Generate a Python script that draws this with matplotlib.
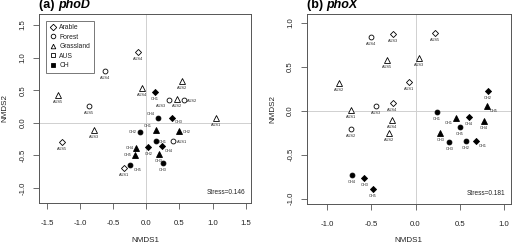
import matplotlib
matplotlib.use("Agg")
import matplotlib.pyplot as plt
from matplotlib.lines import Line2D

plt.rcParams['font.family'] = ['Liberation Sans', 'DejaVu Sans']

# ---------------- data: panel (a) phoD ----------------
a_x = [-0.13, -0.62, -1.33, -0.87, -0.79, -1.27, -0.06, 0.13, 0.54, 0.34, 0.47, 0.57,
       0.18, 0.38, 1.05, 0.14, 0.50, -0.10, 0.14, 0.41, -0.15, 0.03, 0.23, -0.17, 0.19,
       0.25, -0.24, -0.33]
a_y = [1.08, 0.80, 0.42, 0.26, -0.11, -0.30, 0.54, 0.47, 0.64, 0.35, 0.37, 0.35,
       0.08, 0.08, 0.08, -0.11, -0.13, -0.14, -0.28, -0.28, -0.39, -0.37, -0.36, -0.49, -0.48,
       -0.61, -0.65, -0.70]
a_land = ['Arable', 'Forest', 'Grassland', 'Forest', 'Grassland', 'Arable', 'Grassland', 'Arable',
          'Grassland', 'Forest', 'Grassland', 'Forest', 'Forest', 'Arable', 'Grassland', 'Grassland',
          'Grassland', 'Forest', 'Forest', 'Forest', 'Grassland', 'Arable', 'Arable', 'Grassland',
          'Grassland', 'Forest', 'Forest', 'Arable']
a_site = ['AUS4', 'AUS4', 'AUS5', 'AUS5', 'AUS3', 'AUS5', 'AUS4', 'CH1', 'AUS2', 'AUS3', 'AUS2',
          'AUS2', 'CH4', 'CH3', 'AUS1', 'CH1', 'CH2', 'CH2', 'CH1', 'AUS1', 'CH4', 'CH2', 'CH4',
          'CH5', 'CH3', 'CH3', 'CH5', 'AUS1']
a_lab = ['b', 'b', 'b', 'b', 'b', 'b', 'b', 'b', 'b', 'bl', 'b', 'r', 'ul', 'br', 'b', 'ul',
         'r', 'l', 'r', 'r', 'l', 'b', 'br', 'l', 'b', 'b', 'br', 'b']

# ---------------- data: panel (b) phoX ----------------
b_x = [-0.50, -0.26, 0.215, -0.32, 0.04, -0.87, -0.075, -0.73, -0.45, -0.26, -0.73, -0.27,
       -0.30, 0.24, 0.46, 0.60, 0.81, 0.815, 0.77, 0.50, 0.28, 0.38, 0.57, 0.68, -0.72,
       -0.58, -0.48]
b_y = [0.84, 0.87, 0.88, 0.57, 0.60, 0.31, 0.33, 0.01, 0.05, 0.09, -0.21, -0.11, -0.25,
       -0.02, -0.08, -0.07, 0.05, 0.22, -0.12, -0.18, -0.25, -0.36, -0.34, -0.35, -0.73,
       -0.76, -0.89]
b_land = ['Forest', 'Arable', 'Arable', 'Grassland', 'Grassland', 'Grassland', 'Arable',
          'Grassland', 'Forest', 'Arable', 'Forest', 'Grassland', 'Grassland', 'Forest',
          'Grassland', 'Arable', 'Grassland', 'Arable', 'Grassland', 'Forest', 'Grassland',
          'Forest', 'Forest', 'Arable', 'Forest', 'Arable', 'Arable']
b_site = ['AUS4', 'AUS3', 'AUS5', 'AUS5', 'AUS3', 'AUS2', 'AUS1', 'AUS1', 'AUS3', 'AUS4',
          'AUS2', 'AUS4', 'AUS2', 'CH1', 'CH1', 'CH4', 'CH5', 'CH2', 'CH4', 'CH5', 'CH3',
          'CH3', 'CH2', 'CH1', 'CH4', 'CH3', 'CH5']
b_lab = ['b', 'b', 'b', 'b', 'b', 'b', 'b', 'b', 'b', 'b', 'b', 'b', 'b', 'b', 'bl', 'b',
         'br', 'b', 'b', 'b', 'b', 'b', 'b', 'br', 'b', 'b', 'b']

a_xticks = [-1.5, -1.0, -0.5, 0.0, 0.5, 1.0, 1.5]
a_yticks = [-1.0, -0.5, 0.0, 0.5, 1.0, 1.5]
b_xticks = [-1.0, -0.5, 0.0, 0.5, 1.0]
b_yticks = [-1.0, -0.5, 0.0, 0.5, 1.0]
a_stress = 0.146
b_stress = 0.181

# ---------------- style ----------------
W, H = 520, 245
fig = plt.figure(figsize=(W / 100, H / 100), dpi=100)

markers = {'Arable': 'D', 'Forest': 'o', 'Grassland': '^'}
msize = {'Arable': 3.1, 'Forest': 3.5, 'Grassland': 3.8}
# label offsets in pixels (dx, dy, ha)
offs = {'b': (0, -7, 'center'), 'r': (3, -0.5, 'left'), 'l': (-3, 0, 'right'),
        'br': (3, -4.5, 'left'), 'bl': (-8, -5.5, 'center'), 'ul': (-3.5, 4, 'right')}
px2pt = 0.72
box_col = '#555555'


def make_axes(left, right, top, bottom):
    return fig.add_axes([left / W, (H - bottom) / H, (right - left) / W, (bottom - top) / H])


def draw_panel(ax, xs, ys, lands, sites, labs, xlim, ylim, xticks, yticks, stress, title, gene,
               xlabelpad):
    ax.axhline(0, color='#d0d0d0', lw=0.7, zorder=0)
    ax.axvline(0, color='#d0d0d0', lw=0.7, zorder=0)
    for x, y, land, site, lab in zip(xs, ys, lands, sites, labs):
        filled = site.startswith('CH')
        ax.plot([x], [y], marker=markers[land], ms=msize[land], mew=0.6,
                mfc='black' if filled else 'white', mec='black', ls='none', zorder=3)
        dx, dy, ha = offs[lab]
        ax.annotate(site, (x, y), xytext=(dx * px2pt, dy * px2pt), textcoords='offset points',
                    ha=ha, va='center', fontsize=2.8, color='#222222', zorder=4)
    ax.set_xlim(*xlim)
    ax.set_ylim(*ylim)
    ax.set_xticks(xticks)
    ax.set_yticks(yticks)
    ax.set_xticklabels([f"{t:.1f}" for t in xticks])
    ax.set_yticklabels([f"{t:.1f}" for t in yticks], rotation=90, va='center')
    ax.tick_params(axis='both', length=4, width=0.6, color=box_col, labelsize=5.6,
                   labelcolor='#222222', direction='out')
    ax.tick_params(axis='x', pad=8)
    ax.tick_params(axis='y', pad=5)
    for s in ax.spines.values():
        s.set_color(box_col)
        s.set_linewidth(0.7)
    ax.set_xlabel('NMDS1', fontsize=5.8, color='#222222', labelpad=xlabelpad)
    ax.set_ylabel('NMDS2', fontsize=5.8, color='#222222', labelpad=8)
    ax.text(0.975, 0.035, f"Stress={stress}", transform=ax.transAxes, ha='right', va='bottom',
            fontsize=4.7, color='#222222')
    t1 = ax.text(0.0, 1.015, f"({title}) ", transform=ax.transAxes, ha='left', va='bottom',
                 fontsize=9, fontweight='bold')
    ax.annotate(gene, xy=(1, 0), xycoords=t1, ha='left', va='bottom', fontsize=9,
                fontweight='bold', fontstyle='italic')


ax1 = make_axes(39.3, 250.7, 14, 203)
draw_panel(ax1, a_x, a_y, a_land, a_site, a_lab, (-1.615, 1.575), (-1.23, 1.67),
           a_xticks, a_yticks, a_stress, 'a', 'phoD', 7.5)

ax2 = make_axes(306.7, 510.7, 14, 204)
draw_panel(ax2, b_x, b_y, b_land, b_site, b_lab, (-1.23, 1.075), (-1.06, 1.098),
           b_xticks, b_yticks, b_stress, 'b', 'phoX', 6.8)

# legend (panel a)
leg_labels = ['Arable', 'Forest', 'Grassland', 'AUS', 'CH']
leg_markers = ['D', 'o', '^', 's', 's']
leg_fill = ['white', 'white', 'white', 'white', 'black']
handles = [Line2D([], [], marker=m, ls='none', mfc=f, mec='black', mew=0.6, ms=3.3)
           for m, f in zip(leg_markers, leg_fill)]
leg = ax1.legend(handles, leg_labels, loc='upper left', bbox_to_anchor=(0.032, 0.965),
                 borderaxespad=0, fontsize=4.9, frameon=True, fancybox=False,
                 handlelength=0.8, handletextpad=0.6, labelspacing=0.35, borderpad=0.55)
leg.get_frame().set_edgecolor(box_col)
leg.get_frame().set_linewidth(0.7)
for t in leg.get_texts():
    t.set_color('#222222')

fig.savefig('out.png', dpi=100)
